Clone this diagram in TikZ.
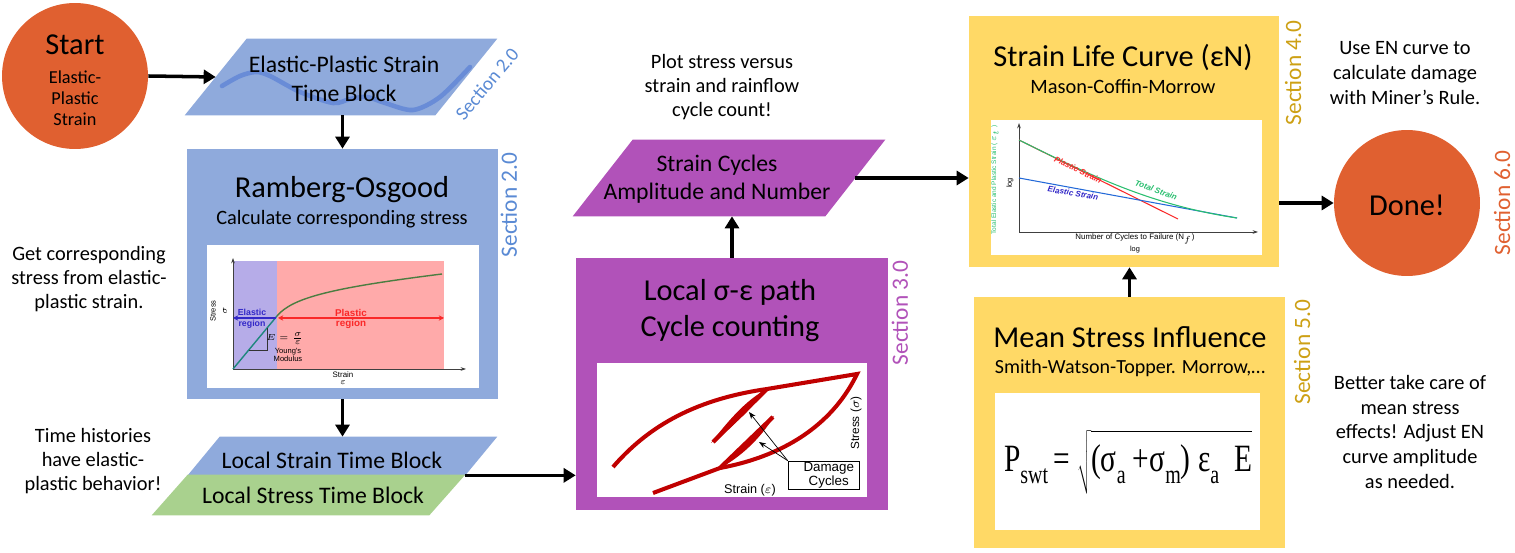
\documentclass[tikz,border=0pt]{standalone}
\usepackage{fontspec}
\usepackage{graphicx}
\setmainfont{Carlito}
\newfontfamily\plotfont{Liberation Sans}
\newfontfamily\eqfont{Liberation Serif}
\usetikzlibrary{arrows.meta}

\definecolor{termorange}{RGB}{224,96,48}
\definecolor{blockblue}{RGB}{143,170,220}
\definecolor{secblue}{RGB}{90,138,212}
\definecolor{blockgreen}{RGB}{169,209,142}
\definecolor{blockpurple}{RGB}{177,82,185}
\definecolor{blockyellow}{RGB}{255,217,102}
\definecolor{secgold}{RGB}{205,160,20}
\definecolor{wavecol}{RGB}{105,140,215}
\definecolor{elasticbg}{RGB}{182,172,232}
\definecolor{plasticbg}{RGB}{255,170,170}
\definecolor{curveteal}{RGB}{30,135,125}
\definecolor{curvegreen}{RGB}{75,125,65}
\definecolor{elasticblue}{RGB}{50,40,200}
\definecolor{plasticred}{RGB}{250,40,40}
\definecolor{loopred}{RGB}{192,0,0}
\definecolor{totalgreen}{RGB}{40,190,110}

\newcommand{\fsz}[2]{\fontsize{#1}{#2}\selectfont}
% slanted fill over a rectangle node: node, colour, slant
\newcommand{\iofill}[3]{\fill[#2] ([xshift=#3]#1.north west) -- (#1.north east)
  -- ([xshift=-#3]#1.south east) -- (#1.south west) -- cycle;}

\begin{document}
\begin{tikzpicture}[
  x=0.02cm, y=-0.02cm,
  term/.style={circle, fill=termorange, minimum size=2.92cm, inner sep=0pt},
  block/.style={rectangle, inner sep=0pt},
  io/.style={rectangle, inner sep=0pt, minimum height=1.52cm, minimum width=6.24cm},
  plotbox/.style={rectangle, fill=white, inner sep=0pt},
  ttl/.style={font=\fsz{17.3}{20.5}, align=center},
  subttl/.style={font=\fsz{11.6}{14}},
  iotext/.style={font=\fsz{13.5}{16.2}, align=center},
  note/.style={font=\fsz{11.6}{13.8}, align=center},
  sec/.style={font=\fsz{13.3}{15}, rotate=90},
  arr/.style={-{Triangle[length=0.24cm,width=0.28cm]}, line width=2pt},
  axis/.style={-{Stealth[length=3pt,width=2pt]}, line width=0.4pt, black!75},
  tinytext/.style={font=\plotfont\fsz{4.5}{5.5}, inner sep=0pt},
]
  \useasboundingbox (0,0) rectangle (1515,553);

  % blocks
  \node[term] (start) at (75,76) {};
  \node[io] (ep) at (341,77) {};
  \iofill{ep}{blockblue}{1.24cm}
  \node[block, fill=blockblue, minimum width=6.22cm, minimum height=5cm] (ro) at (342.5,274) {};
  \node[io, minimum height=0.76cm, minimum width=6.18cm] (lsb) at (342.5,456) {};
  \iofill{lsb}{blockblue}{0.64cm}
  \node[io, minimum height=0.80cm, minimum width=6.26cm] (lstb) at (308.5,495) {};
  \iofill{lstb}{blockgreen}{0.72cm}
  \node[block, fill=blockpurple, minimum width=6.24cm, minimum height=5.04cm] (lc) at (732,384) {};
  \node[io] (sc) at (729,178) {};
  \iofill{sc}{blockpurple}{1.2cm}
  \node[block, fill=blockyellow, minimum width=6.2cm, minimum height=5.02cm] (sl) at (1124,141.5) {};
  \node[block, fill=blockyellow, minimum width=6.22cm, minimum height=5.02cm] (ms) at (1129.5,422.5) {};
  \node[term] (done) at (1407,203) {};

  % start
  \node[font=\fsz{17.3}{20}] (starttitle) at (75,45) {Start};
  \node[font=\fsz{10.4}{12}, align=center] (startsub) at (75,98) {Elastic-\\Plastic\\Strain};

  % elastic-plastic input
  \draw[wavecol, line width=2.6pt, line cap=round]
    plot[smooth] coordinates {(222,86) (240,76) (256,72) (270,76) (300,92) (333,103)
      (350,99) (367,97) (385,103) (413,110) (440,97) (470,67)};
  \node[iotext] (eptext) at (344,79) {Elastic-Plastic Strain\\Time Block};
  \node[font=\fsz{11}{12}, text=secblue, rotate=50] (epsec) at (487,84) {Section 2.0};

  % Ramberg-Osgood
  \node[ttl] (rotitle) at (342,190) {Ramberg-Osgood};
  \node[subttl] (rosub) at (342,219) {Calculate corresponding stress};
  \node[sec, text=secblue] (rosec) at (509,205) {Section 2.0};
  \node[plotbox, minimum width=5.44cm, minimum height=2.86cm] (roplot) at (343,316.5) {};
  \fill[elasticbg] (233,261) rectangle (277,369);
  \fill[plasticbg] (277,261) rectangle (444,369);
  \draw[axis] (233,369) -- (233,258);
  \draw[axis] (233,369) -- (466,369);
  \draw[curveteal, line width=0.8pt] (233,369) -- (277,316);
  \draw[curvegreen, line width=0.8pt] (277,316) .. controls (292,298) and (330,288) .. (442,274);
  \draw[elasticblue, line width=0.6pt, {Stealth[length=3pt,width=3pt]}-] (233,318) -- (276,318);
  \draw[plasticred, line width=0.6pt, {Stealth[length=3pt,width=3pt]}-{Stealth[length=3pt,width=3pt]}] (278,318) -- (444,318);
  \node[tinytext, font=\plotfont\bfseries\fsz{5}{6}, text=elasticblue] (elastxt) at (252,312) {Elastic};
  \node[tinytext, font=\plotfont\bfseries\fsz{5}{6}, text=elasticblue] (elasreg) at (252,324) {region};
  \node[tinytext, font=\plotfont\bfseries\fsz{5.6}{6}, text=plasticred] (plastxt) at (351,313) {Plastic};
  \node[tinytext, font=\plotfont\bfseries\fsz{5.6}{6}, text=plasticred] (plasreg) at (351,324) {region};
  \draw[black!80, line width=0.4pt] (249,350) -- (267,350) -- (267,328);
  \node[tinytext, font=\fsz{5}{6}] (youngeq) at (285,339) {$E=\frac{\sigma}{\varepsilon}$};
  \node[tinytext, font=\plotfont\fsz{4.3}{5}, align=center] (youngtxt) at (288,355) {Young's\\Modulus};
  \node[tinytext, font=\plotfont\fsz{4.3}{5}, rotate=90] (rostress) at (213,311) {Stress};
  \node[tinytext, font=\fsz{5.5}{6}, rotate=90] (rosigma) at (225,311) {$\sigma$};
  \node[tinytext, font=\plotfont\fsz{4.5}{5}] (rostrain) at (343,375) {Strain};
  \node[tinytext, font=\fsz{5.5}{6}] (roeps) at (343,383) {$\varepsilon$};

  % local time blocks
  \node[iotext] (lsbtext) at (332,460) {Local Strain Time Block};
  \node[iotext] (lstbtext) at (313,495) {Local Stress Time Block};
  \node[note] (leftnote1) at (89,279) {Get corresponding\\stress from elastic-\\plastic strain.};
  \node[note] (leftnote2) at (93,461) {Time histories\\have elastic-\\plastic behavior!};

  % local path and cycle counting
  \node[ttl] (lctitle) at (730,311) {Local σ-ε path\\Cycle counting};
  \node[sec, text=blockpurple] (lcsec) at (900,313) {Section 3.0};
  \node[plotbox, minimum width=5.4cm, minimum height=2.68cm] (lcplot) at (732,430) {};
  \draw[loopred, line width=2.3pt]
    (613,467) .. controls (645,430) and (690,400) .. (767,389) -- (857,374)
    .. controls (835,420) and (790,455) .. (720,468) -- (653,493);
  \fill[loopred] (767,389) .. controls (745,400) and (725,425) .. (711,443)
    .. controls (735,425) and (752,408) .. (767,389) -- cycle;
  \draw[loopred, line width=2.4pt] (767,389) -- (713,442);
  \fill[loopred] (720,468) .. controls (740,450) and (760,425) .. (774,416)
    .. controls (765,432) and (745,455) .. (720,468) -- cycle;
  \draw[loopred, line width=2.4pt] (720,468) -- (773,417);
  \node[draw, line width=0.4pt, fill=white, minimum width=1.42cm, minimum height=0.56cm,
    inner sep=0pt, align=center, font=\plotfont\fsz{7.6}{8}] (dmg) at (823.5,475) {\hspace*{6pt}Damage\\\hspace*{6pt}Cycles};
  \draw[-{Stealth[length=4pt,width=3pt]}, line width=0.4pt] (dmg.north west) -- (749,412);
  \draw[-{Stealth[length=4pt,width=3pt]}, line width=0.4pt] (dmg.north west) -- (759,442);
  \node[tinytext, font=\plotfont\fsz{7.2}{8}] (lcstrain) at (750,490) {Strain ($\varepsilon$)};
  \node[tinytext, font=\plotfont\fsz{6.7}{8}, rotate=90] (lcstress) at (856,423) {Stress ($\sigma$)};

  % strain cycles
  \node[iotext] (sctext) at (717,179) {Strain Cycles\\Amplitude and Number};
  \node[note] (scnote) at (722,87) {Plot stress versus\\strain and rainflow\\cycle count!};

  % strain life curve
  \node[ttl] (sltitle) at (1123,57) {Strain Life Curve (εN)};
  \node[subttl] (slsub) at (1123,87) {Mason-Coffin-Morrow};
  \node[sec, text=secgold] (slsec) at (1293,73) {Section 4.0};
  \node[plotbox, minimum width=5.42cm, minimum height=2.7cm] (slplot) at (1126.5,187.5) {};
  \draw[axis] (1019,232) -- (1019,123);
  \draw[axis] (1019,232) -- (1258,232);
  \draw[plasticred, line width=0.6pt] (1019,140) -- (1178,219);
  \draw[elasticblue!70!cyan, line width=0.6pt] (1019,178) -- (1237,218);
  \draw[totalgreen, line width=0.6pt] (1019,140) .. controls (1090,175) and (1150,205) .. (1237,218);
  \node[tinytext, font=\plotfont\bfseries\itshape\fsz{4.6}{5}, text=plasticred, rotate=-26] (pstrain) at (1078,170) {Plastic Strain};
  \node[tinytext, font=\plotfont\bfseries\itshape\fsz{4.6}{5}, text=elasticblue, rotate=-9] (estrain) at (1073,193) {Elastic Strain};
  \node[tinytext, font=\plotfont\bfseries\itshape\fsz{4.6}{5}, text=totalgreen, rotate=-20] (tstrain) at (1156,190) {Total Strain};
  \node[tinytext, font=\plotfont\fsz{3.7}{4}, text=totalgreen, rotate=90] (slylab) at (995,180) {Total Elastic and Plastic Strain ( $\varepsilon_t$ )};
  \node[tinytext, font=\plotfont\fsz{4.2}{5}, rotate=90] (slylog) at (1010,183) {log};
  \node[tinytext, font=\plotfont\fsz{4.5}{5}] (slxlab) at (1135,239) {Number of Cycles to Failure (N$_f$)};
  \node[tinytext, font=\plotfont\fsz{4.2}{5}] (slxlog) at (1135,250) {log};

  % mean stress influence
  \node[ttl] (mstitle) at (1130,337) {Mean Stress Influence};
  \node[subttl, font=\fsz{11.4}{14}] (mssub) at (1130,368) {Smith-Watson-Topper. Morrow,…};
  \node[sec, text=secgold] (mssec) at (1302,352) {Section 5.0};
  \node[plotbox, minimum width=5.3cm, minimum height=2.74cm] (msplot) at (1127.5,461.5) {};
  \node[font=\eqfont\fsz{22}{24}] (swt) at (1128,462) {\scalebox{0.76}[1]{P\raisebox{-0.3em}{\fsz{15}{15}swt}\,= $\sqrt{\rule[-0.45em]{0pt}{1.35em}\hbox{(σ\raisebox{-0.3em}{\fsz{15}{15}a} +σ\raisebox{-0.3em}{\fsz{15}{15}m}) ε\raisebox{-0.3em}{\fsz{15}{15}a}\ \ E}}$}};

  % done
  \node[font=\fsz{17.3}{20}] (donetxt) at (1407,205) {Done!};
  \node[sec, text=termorange] (donesec) at (1502,203) {Section 6.0};
  \node[note, font=\fsz{11.6}{14.2}] (rightnote1) at (1405,73) {Use EN curve to\\calculate damage\\with Miner’s Rule.};
  \node[note, font=\fsz{11.6}{14.2}] (rightnote2) at (1410,432) {Better take care of\\mean stress\\effects! Adjust EN\\curve amplitude\\as needed.};

  % connectors
  \draw[arr] (start.east) -- ([xshift=0.62cm]ep.west);
  \draw[arr] (ro.north |- ep.south) -- (ro.north);
  \draw[arr] (ro.south) -- (ro.south |- lsb.north);
  \draw[arr] ([xshift=-0.64cm]lsb.south east) -- (lc.west |- lsb.south);
  \draw[arr] (lc.north) -- (lc.north |- sc.south);
  \draw[arr] ([xshift=-0.6cm]sc.east) -- (sc.east -| sl.west);
  \draw[arr] (ms.north) -- (ms.north |- sl.south);
  \draw[arr] (done.west -| sl.east) -- (done.west);
\end{tikzpicture}
\end{document}
